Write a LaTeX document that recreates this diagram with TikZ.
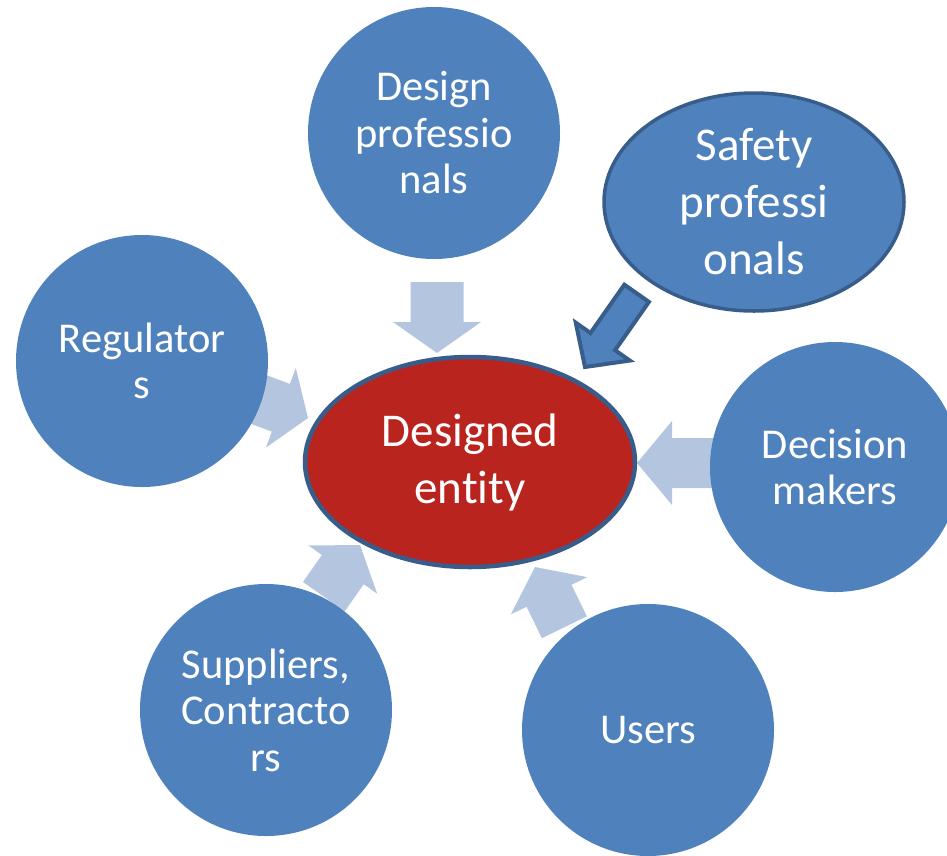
\documentclass[tikz,border=0pt]{standalone}
\usepackage{fontspec}
\setmainfont{Carlito}[Ligatures=NoCommon]
\usetikzlibrary{shapes.geometric}

\definecolor{circblue}{RGB}{79,129,189}
\definecolor{edgeblue}{RGB}{56,93,138}
\definecolor{lightarrow}{RGB}{180,197,224}
\definecolor{entityred}{RGB}{185,36,30}

% block arrow: [style]{tip}{direction angle}{length}{shaft half width}{head half width}{head length}
\newcommand\blockarr[7][]{%
  \path[#1, shift={(#2)}, rotate=#3]
    (0,0) -- (-#7,#6) -- (-#7,#5) -- (-#4,#5) -- (-#4,-#5) -- (-#7,-#5) -- (-#7,-#6) -- cycle;}

\tikzset{
  party/.style={circle, fill=circblue, text=white, align=center, inner sep=0pt,
    font=\fontsize{42.5}{46.5}\selectfont},
  lightarr/.style={fill=lightarrow},
  darkarr/.style={fill=circblue, draw=edgeblue, line width=4pt, line join=miter},
}

\begin{document}
\begin{tikzpicture}[x=1pt, y=-1pt]
  \useasboundingbox (0,0) rectangle (947,855);
  \clip (0,0) rectangle (947,855);

  % arrows pointing at the designed entity
  \blockarr[lightarr]{437,353}{-90}{71}{26.5}{44}{31}
  \blockarr[lightarr]{637,463}{180}{78}{25}{42}{35}
  \blockarr[lightarr]{308,418}{-20.6}{72}{25.5}{42.5}{29}
  \blockarr[lightarr]{360,545}{55}{63}{25.5}{42}{30}
  \blockarr[lightarr]{535,567}{116}{67}{25}{42.5}{32}

  % stakeholders
  \node[party, minimum size=252pt] (design) at (434,133) {Design\\professio\\nals};
  \node[party, minimum size=252pt] (regul) at (142,361) {Regulator\\s};
  \node[party, minimum size=250pt] (decis) at (835,467) {Decision\\makers};
  \node[party, minimum size=252pt] (suppl) at (266,710) {Suppliers,\\Contracto\\rs};
  \node[party, minimum size=252pt] (users) at (648,730) {Users};

  \node[ellipse, fill=circblue, draw=edgeblue, line width=3.5pt, text=white,
        align=center, inner sep=0pt, minimum width=300pt, minimum height=218pt,
        font=\fontsize{47}{57}\selectfont] (safety) at (754,202) {Safety\\professi\\onals};

  \blockarr[darkarr]{585,367}{235}{90}{15}{33}{31}

  % the designed entity
  \node[ellipse, fill=entityred, draw=edgeblue, line width=4.5pt, text=white,
        align=center, inner sep=0pt, minimum width=330pt, minimum height=210pt,
        font=\fontsize{47}{57}\selectfont] (entity) at (470,462) {Designed\\entity};
\end{tikzpicture}
\end{document}
